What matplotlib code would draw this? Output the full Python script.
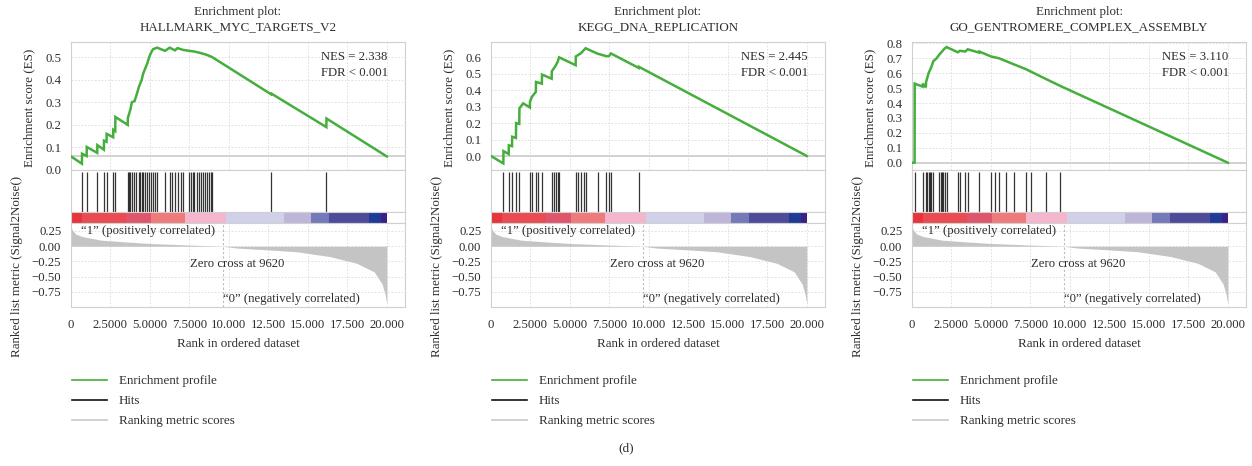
import matplotlib
matplotlib.use('Agg')
import matplotlib.pyplot as plt
from matplotlib.lines import Line2D

# ---------------- data ----------------
titles = ["HALLMARK_MYC_TARGETS_V2", "KEGG_DNA_REPLICATION", "GO_GENTROMERE_COMPLEX_ASSEMBLY"]
nes_texts = ["NES = 2.338", "NES = 2.445", "NES = 3.110"]
fdr_text = "FDR < 0.001"

es1_rank = [0, 690, 700, 990, 1000, 1660, 1670, 2080, 2090, 2250, 2260, 2670, 2680, 2800, 2810,
            3590, 3600, 3770, 3850, 4020, 4140, 4310, 4480, 4560, 4700, 4820, 4950, 5070, 5200,
            5450, 5950, 6250, 6580, 6750, 7090, 7470, 7800, 8220, 8600, 8940, 12680, 12700,
            16170, 16180, 20000]
es1_val = [0.060, 0.028, 0.072, 0.062, 0.102, 0.076, 0.110, 0.090, 0.130, 0.125, 0.160, 0.145,
           0.178, 0.172, 0.235, 0.200, 0.230, 0.270, 0.300, 0.305, 0.330, 0.370, 0.400, 0.425,
           0.450, 0.470, 0.500, 0.520, 0.535, 0.542, 0.528, 0.542, 0.530, 0.540, 0.532, 0.528,
           0.525, 0.518, 0.510, 0.500, 0.335, 0.338, 0.190, 0.228, 0.060]

es2_rank = [0, 780, 790, 1120, 1130, 1330, 1340, 1580, 1590, 1790, 1800, 2040, 2460, 2470, 2590,
            2840, 2850, 3220, 3230, 3840, 3850, 4100, 4230, 4310, 5360, 5370, 5700, 5990, 6750,
            7300, 7460, 7600, 9360, 9370, 20000]
es2_val = [0.000, -0.045, 0.030, 0.012, 0.065, 0.060, 0.117, 0.110, 0.200, 0.195, 0.290, 0.320,
           0.295, 0.330, 0.360, 0.390, 0.450, 0.440, 0.495, 0.470, 0.515, 0.550, 0.575, 0.600,
           0.552, 0.605, 0.625, 0.655, 0.622, 0.607, 0.607, 0.623, 0.535, 0.542, 0.000]

es3_rank = [0, 165, 170, 670, 680, 880, 890, 1050, 1220, 1350, 1560, 1730, 1900, 2060, 2190,
            2900, 3030, 3370, 3530, 4250, 4260, 5000, 5510, 6430, 7190, 8500, 9380, 20000]
es3_val = [0.000, 0.000, 0.530, 0.510, 0.530, 0.505, 0.540, 0.600, 0.640, 0.680, 0.700, 0.725,
           0.745, 0.765, 0.775, 0.740, 0.750, 0.745, 0.760, 0.738, 0.745, 0.712, 0.700, 0.660,
           0.628, 0.560, 0.515, 0.000]

hits1 = [694, 989, 1662, 2082, 2251, 2671, 2797, 3597, 3681, 3765, 3849, 4017, 4143, 4312, 4396,
         4480, 4564, 4690, 4817, 4943, 5069, 5195, 5321, 5448, 5952, 6247, 6373, 6583, 6752, 6962,
         7088, 7467, 7593, 7719, 7804, 7972, 8098, 8224, 8350, 8477, 8603, 8729, 8855, 8940,
         12683, 16175]
hits2 = [778, 1115, 1325, 1578, 1788, 2461, 2587, 2840, 2966, 3218, 3849, 3975, 4102, 4228, 4312,
         5364, 5490, 5700, 5868, 5995, 6752, 7299, 7467, 7593, 9360]
hits3 = [168, 673, 883, 967, 1052, 1136, 1220, 1346, 1725, 1809, 1893, 1977, 2061, 2187, 2903,
         3029, 3366, 3534, 4249, 5006, 5258, 5511, 5974, 6436, 7193, 7530, 8498, 9381]

metric_rank = [0, 100, 300, 700, 1900, 3500, 5000, 7500, 9620, 10500, 12500, 14300, 16400,
               18100, 19200, 19700, 19900, 20000]
metric_val = [0.32, 0.26, 0.20, 0.16, 0.10, 0.07, 0.045, 0.02, 0.0, -0.03, -0.06, -0.09, -0.17,
              -0.28, -0.42, -0.62, -0.80, -0.95]

cb_edges = [0, 673, 3513, 5090, 7193, 9823, 13503, 15186, 16343, 18867, 19604, 20000]
cb_colors = ['#e6343a', '#e84c52', '#dd566b', '#ef7a7b', '#f4b5cd', '#d0d1e8', '#beb6da',
             '#7379b9', '#4e4b9b', '#1f3b95', '#3b2086']

zero_cross = 9620
x_ticks = [0, 2500, 5000, 7500, 10000, 12500, 15000, 17500, 20000]
x_ticklabels = ["0", "2.5000", "5.0000", "7.5000", "10.000", "12.500", "15.000", "17.500", "20.000"]
es_ticks = [[0.0, 0.1, 0.2, 0.3, 0.4, 0.5],
            [0.0, 0.1, 0.2, 0.3, 0.4, 0.5, 0.6],
            [0.0, 0.1, 0.2, 0.3, 0.4, 0.5, 0.6, 0.7, 0.8]]
es_ylims = [(0.0, 0.567), (-0.085, 0.693), (-0.049, 0.809)]
es_baseline = [0.060, 0.0, 0.0]
metric_ticks = [0.25, 0.0, -0.25, -0.50, -0.75]
metric_ticklabels = ["0.25", "0.00", "\u22120.25", "\u22120.50", "\u22120.75"]
legend_labels = ["Enrichment profile", "Hits", "Ranking metric scores"]

# ---------------- style ----------------
plt.rcParams['font.family'] = ['Liberation Serif', 'DejaVu Serif']
plt.rcParams['font.size'] = 9.2
TXT = '#2e2e2e'
GREEN = '#45ae3c'
GRID = '#dadada'
SPINE = '#d0d0d0'
GRAY = '#c4c4c4'

W, H = 1252, 466
fig = plt.figure(figsize=(W / 100, H / 100), dpi=100)


def fx(px):
    return px / W


def fy(py):
    return 1 - py / H


XMAX = 21150
lefts = [71, 491, 912]
AW = 334
es_data = [(es1_rank, es1_val), (es2_rank, es2_val), (es3_rank, es3_val)]
hits_all = [hits1, hits2, hits3]


def style_spines(ax):
    for s in ax.spines.values():
        s.set_color(SPINE)
        s.set_linewidth(0.8)


for i in range(3):
    L = lefts[i]
    # ES axis
    ax = fig.add_axes([fx(L), fy(170), AW / W, 128 / H])
    ax.plot(es_data[i][0], es_data[i][1], color=GREEN, lw=1.8, solid_joinstyle='miter', zorder=3)
    ax.axhline(es_baseline[i], color='#c8c8c8', lw=1.1, zorder=2)
    ax.set_xlim(0, XMAX)
    ax.set_ylim(*es_ylims[i])
    ax.set_xticks(x_ticks)
    ax.set_xticklabels([])
    ax.set_yticks(es_ticks[i])
    ax.set_yticklabels([f"{t:.1f}" for t in es_ticks[i]])
    ax.tick_params(length=0, pad=7, colors=TXT, labelsize=9.2)
    ax.grid(True, color=GRID, ls=(0, (2, 2)), lw=0.6)
    style_spines(ax)
    ax.text(0.948, 0.88, nes_texts[i], transform=ax.transAxes, ha='right', va='center', color=TXT)
    ax.text(0.948, 0.755, fdr_text, transform=ax.transAxes, ha='right', va='center', color=TXT)

    # titles
    fig.text(fx(L + AW / 2), fy(12.5), "Enrichment plot:", ha='center', va='center', color=TXT, fontsize=9.4)
    fig.text(fx(L + AW / 2), fy(27.5), titles[i], ha='center', va='center', color=TXT, fontsize=9.4)

    # Hits axis
    axh = fig.add_axes([fx(L), fy(212), AW / W, 42 / H])
    axh.vlines(hits_all[i], 0.0, 0.95, color='#111111', lw=0.9, alpha=0.85)
    axh.set_xlim(0, XMAX)
    axh.set_ylim(0, 1)
    axh.set_xticks([])
    axh.set_yticks([])
    style_spines(axh)

    # colour bar
    axc = fig.add_axes([fx(L), fy(223), AW / W, 11 / H])
    widths = [cb_edges[k + 1] - cb_edges[k] for k in range(len(cb_colors))]
    axc.bar(cb_edges[:-1], [1] * len(widths), width=widths, align='edge', color=cb_colors, lw=0)
    axc.set_xlim(0, XMAX)
    axc.set_ylim(0, 1)
    axc.set_xticks([])
    axc.set_yticks([])
    style_spines(axc)

    # ranked metric axis
    axm = fig.add_axes([fx(L), fy(307), AW / W, 84 / H])
    axm.fill_between(metric_rank, 0, metric_val, color=GRAY, lw=0, zorder=2)
    axm.axvline(zero_cross, color='#bbbbbb', ls=(0, (2, 2)), lw=0.8, zorder=3)
    axm.set_xlim(0, XMAX)
    axm.set_ylim(-0.996, 0.381)
    axm.set_xticks(x_ticks)
    axm.set_xticklabels(x_ticklabels)
    axm.set_yticks(metric_ticks)
    axm.set_yticklabels(metric_ticklabels)
    axm.tick_params(length=0, pad=7, colors=TXT, labelsize=9.2)
    axm.tick_params(axis='x', pad=9)
    axm.grid(True, color=GRID, ls=(0, (2, 2)), lw=0.6, zorder=0)
    axm.set_axisbelow(True)
    style_spines(axm)
    axm.text(650, 0.25, "\u201c1\u201d (positively correlated)", ha='left', va='center', color=TXT)
    axm.text(10540, -0.29, "Zero cross at 9620", ha='center', va='center', color=TXT)
    axm.text(9650, -0.87, "\u201c0\u201d (negatively correlated)", ha='left', va='center', color=TXT)

    # axis labels
    fig.text(fx(L + AW / 2), fy(344), "Rank in ordered dataset", ha='center', va='center', color=TXT, fontsize=9.4)
    fig.text(fx(L - 42), fy(108), "Enrichment score (ES)", rotation=90, ha='center', va='center', color=TXT, fontsize=9.4)
    fig.text(fx(L - 54), fy(266), "Ranked list metric (Signal2Noise()", rotation=90, ha='center', va='center', color=TXT, fontsize=9.4)

    # legend
    handles = [Line2D([], [], color=GREEN, lw=1.2),
               Line2D([], [], color='#111111', lw=1.2),
               Line2D([], [], color='#c8c8c8', lw=1.2)]
    fig.legend(handles, legend_labels, loc='upper left', bbox_to_anchor=(fx(L + 1), fy(375)),
               frameon=False, handlelength=2.65, handletextpad=0.95, labelspacing=0.6,
               borderpad=0, borderaxespad=0, fontsize=9.4, labelcolor=TXT)

fig.text(0.5, fy(448), "(d)", ha='center', va='center', color=TXT, fontsize=9.6)

fig.savefig('out.png', dpi=100)
